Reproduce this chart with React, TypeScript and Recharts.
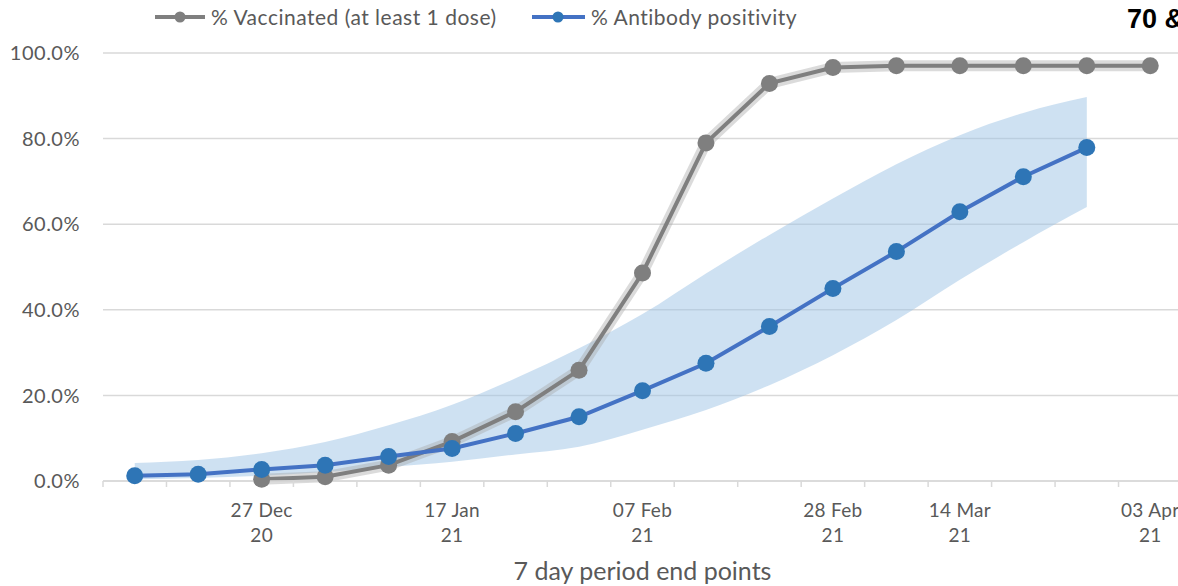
import React from "react";
import {
  ComposedChart,
  Line,
  Area,
  XAxis,
  YAxis,
  CartesianGrid,
  Label,
} from "recharts";

// week ending dates (7 day periods)
const categories = [
  "13 Dec 20", "20 Dec 20", "27 Dec 20", "03 Jan 21", "10 Jan 21", "17 Jan 21",
  "24 Jan 21", "31 Jan 21", "07 Feb 21", "14 Feb 21", "21 Feb 21", "28 Feb 21",
  "07 Mar 21", "14 Mar 21", "21 Mar 21", "28 Mar 21", "03 Apr 21",
];
const labelledTicks = ["27 Dec 20", "17 Jan 21", "07 Feb 21", "28 Feb 21", "14 Mar 21", "03 Apr 21"];

const vaccinated = [null, null, 0.4, 1.0, 3.7, 9.2, 16.2, 25.9, 48.6, 79.0, 92.9, 96.6, 97.0, 97.0, 97.0, 97.0, 97.0];
const antibody = [1.2, 1.6, 2.7, 3.7, 5.7, 7.6, 11.1, 15.0, 21.1, 27.5, 36.1, 45.0, 53.6, 62.9, 71.1, 77.9];
const antibodyLow = [0.4, 0.7, 1.2, 2.1, 3.3, 4.5, 6.2, 8.0, 12.0, 16.6, 22.4, 29.4, 37.6, 47.0, 55.8, 64.0];
const antibodyHigh = [4.2, 4.9, 6.5, 9.1, 13.0, 17.8, 24.0, 31.0, 39.0, 48.5, 57.5, 66.0, 74.0, 80.8, 86.0, 89.7];

const yTicks = [0, 20, 40, 60, 80, 100];

const data = categories.map((period, i) => ({
  period,
  vaccinated: vaccinated[i],
  antibody: antibody[i] ?? null,
  band: antibodyLow[i] != null ? [antibodyLow[i], antibodyHigh[i]] : null,
}));

const CHART_W = 1182;
const CHART_H = 586;
const Y_AXIS_W = 103;
const STEP = (CHART_W - Y_AXIS_W) / categories.length;
const TEXT = "#595959";
const GRID = "#d9d9d9";

function PeriodTick(props: any) {
  const { x, y, payload, index } = props;
  const [d, m, yr] = String(payload.value).split(" ");
  const show = labelledTicks.includes(payload.value);
  const left = x - STEP / 2;
  return (
    <g>
      <line x1={left} x2={left} y1={y} y2={y + 6} stroke={GRID} strokeWidth={1.5} />
      {index === categories.length - 1 && (
        <line x1={x + STEP / 2} x2={x + STEP / 2} y1={y} y2={y + 6} stroke={GRID} strokeWidth={1.5} />
      )}
      {show && (
        <text textAnchor="middle" fill={TEXT} fontSize={19} letterSpacing={0.3}>
          <tspan x={x} y={y + 36}>{`${d} ${m}`}</tspan>
          <tspan x={x} y={y + 61}>{yr}</tspan>
        </text>
      )}
    </g>
  );
}

function TopLegend() {
  return (
    <svg width={1178} height={45} style={{ position: "absolute", left: 0, top: 0 }}>
      <line x1={155} x2={205} y1={17} y2={17} stroke="#7f7f7f" strokeWidth={4} />
      <circle cx={180} cy={17} r={5.5} fill="#7f7f7f" />
      <text x={211} y={25} fontSize={21} letterSpacing={0.5} fill={TEXT}>% Vaccinated (at least 1 dose)</text>
      <line x1={532} x2={585} y1={17} y2={17} stroke="#4472c4" strokeWidth={4} />
      <circle cx={558} cy={17} r={5.5} fill="#2e75b6" />
      <text x={591} y={25} fontSize={21} letterSpacing={0.5} fill={TEXT}>% Antibody positivity</text>
      <text x={1127} y={28} fontSize={27} fontWeight="bold" fill="#000" fontFamily="'Liberation Sans', Arial, sans-serif">
        70 &amp; over
      </text>
    </svg>
  );
}

export default function App() {
  return (
    <div
      style={{
        position: "absolute",
        left: 0,
        top: 0,
        width: 1178,
        height: 586,
        overflow: "hidden",
        background: "#fff",
        fontFamily: "Lato, 'Open Sans', sans-serif",
      }}
    >
      <ComposedChart
        width={CHART_W}
        height={CHART_H}
        data={data}
        margin={{ top: 53, right: 0, bottom: 0, left: 0 }}
      >
        <CartesianGrid vertical={false} stroke={GRID} strokeWidth={1.5} />
        <XAxis
          dataKey="period"
          interval={0}
          height={105}
          padding={{ left: STEP / 2, right: STEP / 2 }}
          tickLine={false}
          tickSize={0}
          tickMargin={0}
          axisLine={{ stroke: GRID, strokeWidth: 1.5 }}
          tick={<PeriodTick />}
        >
          <Label value="7 day period end points" position="insideBottom" offset={6} fill={TEXT} fontSize={25} />
        </XAxis>
        <YAxis
          width={Y_AXIS_W}
          domain={[0, 100]}
          ticks={yTicks}
          axisLine={false}
          tickLine={false}
          tickMargin={17}
          tick={{ fill: TEXT, fontSize: 20, letterSpacing: 0.5 }}
          tickFormatter={(v: number) => `${v.toFixed(1)}%`}
        />
        <Area
          dataKey="band"
          type="monotone"
          stroke="none"
          fill="#9dc3e6"
          fillOpacity={0.5}
          isAnimationActive={false}
          dot={false}
          activeDot={false}
        />
        <Line
          dataKey="vaccinated"
          stroke="#a6a6a6"
          strokeOpacity={0.4}
          strokeWidth={11}
          strokeLinejoin="round"
          dot={false}
          activeDot={false}
          legendType="none"
          isAnimationActive={false}
        />
        <Line
          dataKey="vaccinated"
          stroke="#7f7f7f"
          strokeWidth={4}
          dot={{ r: 8.5, fill: "#7f7f7f", stroke: "none" }}
          activeDot={false}
          isAnimationActive={false}
        />
        <Line
          dataKey="antibody"
          stroke="#4472c4"
          strokeWidth={4}
          dot={{ r: 8.5, fill: "#2e75b6", stroke: "none" }}
          activeDot={false}
          isAnimationActive={false}
        />
      </ComposedChart>
      <TopLegend />
    </div>
  );
}
